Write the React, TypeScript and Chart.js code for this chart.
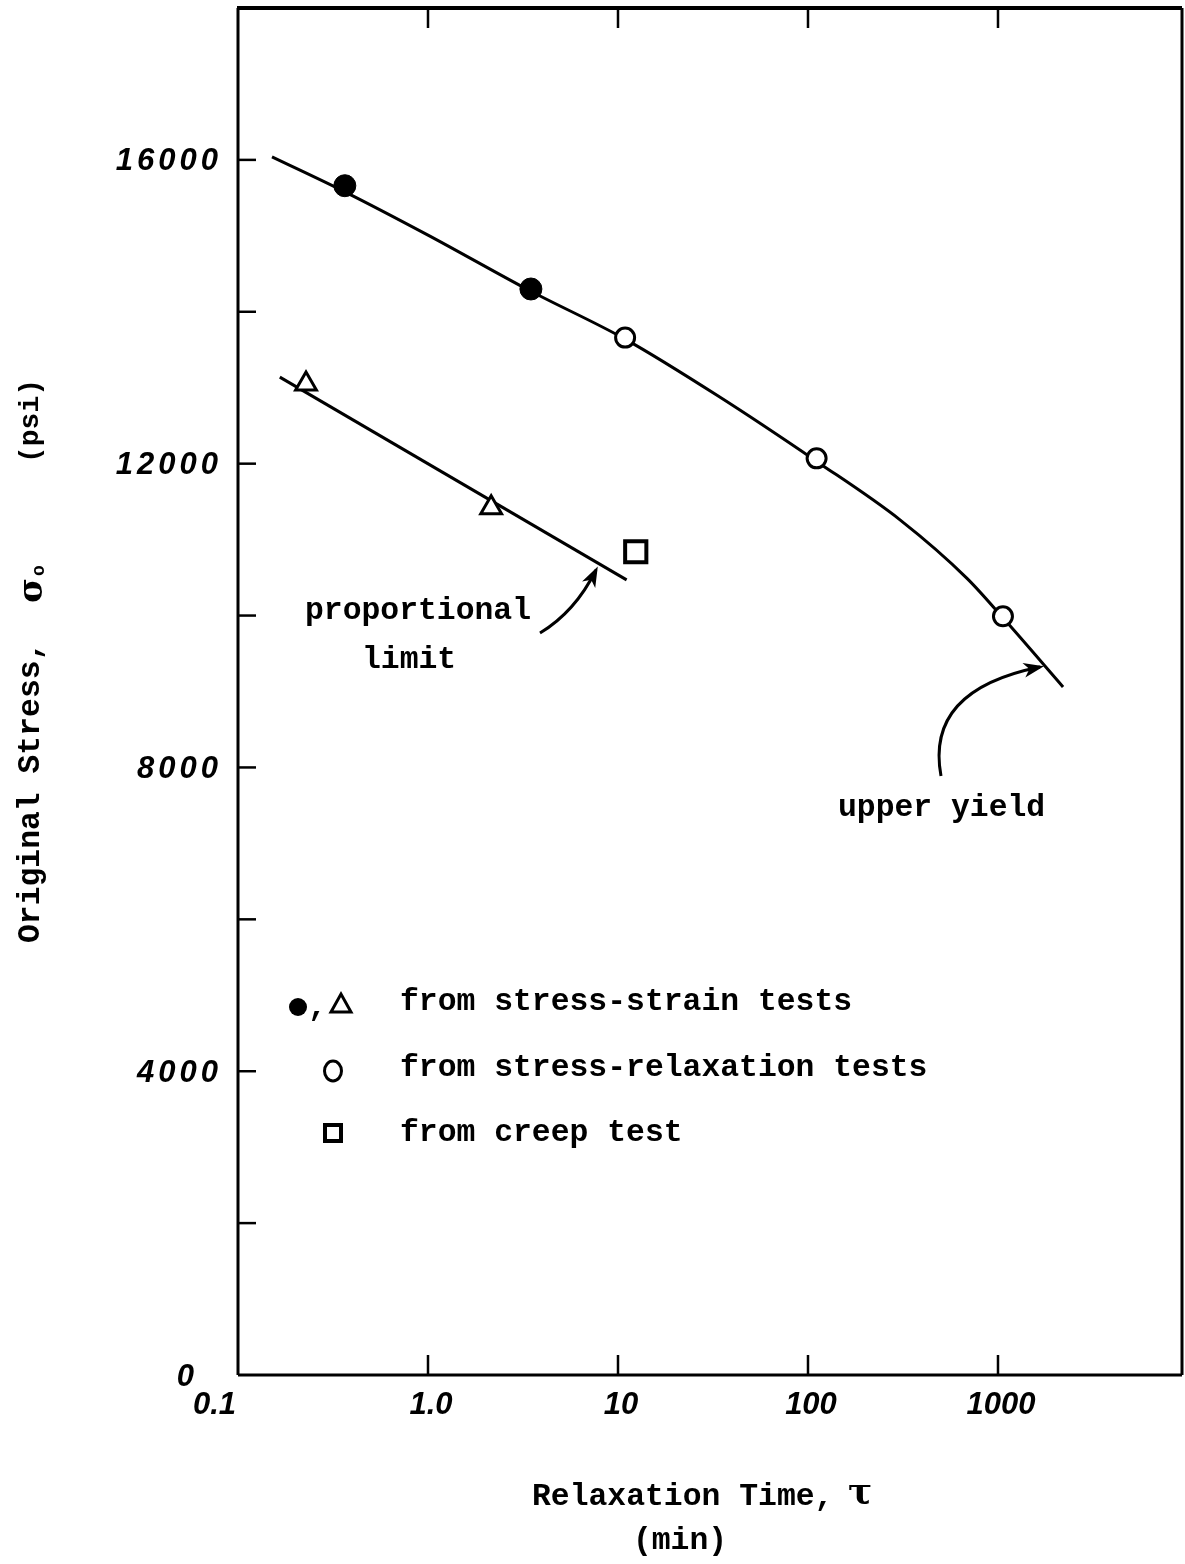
import React, { useEffect, useRef } from "react";
import { Chart, registerables } from "chart.js";

Chart.register(...registerables);

// ---- data ----
const filledX = [0.365, 3.48];
const filledY = [15660, 14300];
const openX = [10.9, 111, 1062];
const openY = [13660, 12070, 9990];
const triX = [0.228, 2.15];
const triY = [13050, 11420];
const sqX = [12.4];
const sqY = [10840];
const upperFitX = [0.151, 0.365, 1.0, 3.48, 10.9, 33.2, 111, 305, 687, 1062, 2200];
const upperFitY = [16040, 15580, 15010, 14270, 13640, 12900, 12030, 11260, 10490, 9970, 9060];
const lowerFitX = [0.166, 11.1];
const lowerFitY = [13140, 10470];

const xTickValues = [0.1, 1, 10, 100, 1000];
const xTickLabels = ["0.1", "1.0", "10", "100", "1000"];
const yMajorValues = [0, 4000, 8000, 12000, 16000];
const yMajorLabels = ["0", "4000", "8000", "12000", "16000"];
const yMinorValues = [2000, 4000, 6000, 8000, 10000, 12000, 14000, 16000];

const legendLabels = [
  "from stress-strain tests",
  "from stress-relaxation tests",
  "from creep test",
];

const xTitle = "Relaxation Time, ";
const xUnit = "(min)";
const yTitle = "Original Stress, ";
const yUnit = "(psi)";

const zip = (xs: number[], ys: number[]) => xs.map((x, i) => ({ x, y: ys[i] }));

const MONO = "bold 31.4px 'Liberation Mono', 'DejaVu Sans Mono', monospace";
const HAND = "italic bold 31px 'Liberation Sans', 'DejaVu Sans', sans-serif";

function arrow(ctx: CanvasRenderingContext2D, x0: number, y0: number, cx: number, cy: number, x1: number, y1: number) {
  ctx.beginPath();
  ctx.moveTo(x0, y0);
  ctx.quadraticCurveTo(cx, cy, x1, y1);
  ctx.stroke();
  const ang = Math.atan2(y1 - cy, x1 - cx);
  const L = 18, W = 0.42;
  ctx.beginPath();
  ctx.moveTo(x1 + 4 * Math.cos(ang), y1 + 4 * Math.sin(ang));
  ctx.lineTo(x1 - L * Math.cos(ang - W), y1 - L * Math.sin(ang - W));
  ctx.lineTo(x1 - L * 0.6 * Math.cos(ang), y1 - L * 0.6 * Math.sin(ang));
  ctx.lineTo(x1 - L * Math.cos(ang + W), y1 - L * Math.sin(ang + W));
  ctx.closePath();
  ctx.fill();
}

const decorPlugin = {
  id: "decor",
  afterDraw(chart: any) {
    const ctx: CanvasRenderingContext2D = chart.ctx;
    const { left, right, top, bottom } = chart.chartArea;
    const xs = chart.scales.x;
    const ys = chart.scales.y;
    ctx.save();
    ctx.strokeStyle = "#000";
    ctx.fillStyle = "#000";
    ctx.lineCap = "butt";
    // frame
    ctx.lineWidth = 3;
    ctx.beginPath();
    ctx.moveTo(left, bottom);
    ctx.lineTo(left, top);
    ctx.stroke();
    ctx.beginPath();
    ctx.moveTo(right, bottom);
    ctx.lineTo(right, top);
    ctx.stroke();
    ctx.beginPath();
    ctx.moveTo(left, bottom);
    ctx.lineTo(right, bottom);
    ctx.stroke();
    ctx.lineWidth = 4;
    ctx.beginPath();
    ctx.moveTo(left - 1, top);
    ctx.lineTo(right, top);
    ctx.stroke();

    // x ticks (inward, top and bottom)
    ctx.lineWidth = 2.5;
    xTickValues.forEach((v, i) => {
      if (i === 0) return;
      const px = xs.getPixelForValue(v);
      ctx.beginPath();
      ctx.moveTo(px, bottom);
      ctx.lineTo(px, bottom - 20);
      ctx.stroke();
      ctx.beginPath();
      ctx.moveTo(px, top);
      ctx.lineTo(px, top + 20);
      ctx.stroke();
    });
    // y ticks (inward, left)
    yMinorValues.forEach((v) => {
      const py = ys.getPixelForValue(v);
      ctx.beginPath();
      ctx.moveTo(left, py);
      ctx.lineTo(left + 18, py);
      ctx.stroke();
    });

    // tick labels
    ctx.font = HAND;
    ctx.textBaseline = "middle";
    xTickValues.forEach((v, i) => {
      const px = xs.getPixelForValue(v);
      if (i === 0) {
        ctx.textAlign = "right";
        ctx.fillText(xTickLabels[i], px - 2, bottom + 30);
      } else {
        ctx.textAlign = "center";
        ctx.fillText(xTickLabels[i], px + 3, bottom + 30);
      }
    });
    (ctx as any).letterSpacing = "4px";
    ctx.textAlign = "right";
    yMajorValues.forEach((v, i) => {
      const py = ys.getPixelForValue(v);
      if (v === 0) {
        ctx.fillText(yMajorLabels[i], left - 40, py + 2);
      } else {
        ctx.fillText(yMajorLabels[i], left - 16, py + 2);
      }
    });
    (ctx as any).letterSpacing = "0px";

    // axis titles
    ctx.font = MONO;
    ctx.textAlign = "left";
    ctx.textBaseline = "middle";
    ctx.fillText(xTitle, 532, 1497);
    ctx.font = "bold 36px 'DejaVu Serif', serif";
    ctx.fillText("τ", 848, 1494);
    ctx.font = MONO;
    ctx.textAlign = "center";
    ctx.fillText(xUnit, 680, 1541);

    ctx.save();
    ctx.translate(31, 943);
    ctx.rotate(-Math.PI / 2);
    ctx.textAlign = "left";
    ctx.font = MONO;
    ctx.fillText(yTitle, 0, 0);
    ctx.font = "bold 34px 'DejaVu Serif', serif";
    ctx.fillText("σ", 340, 2);
    ctx.font = "bold 18px 'Liberation Mono', monospace";
    ctx.fillText("o", 367, 8);
    ctx.font = "bold 28px 'Liberation Mono', monospace";
    ctx.fillText(yUnit, 480, 0);
    ctx.restore();

    // annotations
    ctx.font = MONO;
    ctx.textAlign = "left";
    ctx.fillText("proportional", 305, 611);
    ctx.fillText("limit", 362, 660);
    ctx.fillText("upper yield", 838, 808);

    ctx.lineWidth = 3;
    arrow(ctx, 540, 633, 575, 612, 596, 570);
    arrow(ctx, 941, 776, 925, 690, 1040, 667);

    // legend symbols
    ctx.lineWidth = 3;
    ctx.beginPath();
    ctx.arc(298, 1007, 9, 0, Math.PI * 2);
    ctx.fill();
    ctx.font = MONO;
    ctx.fillText(",", 308, 1007);
    ctx.beginPath();
    ctx.moveTo(331, 1012);
    ctx.lineTo(351, 1012);
    ctx.lineTo(341, 994);
    ctx.closePath();
    ctx.stroke();
    ctx.beginPath();
    ctx.ellipse(333, 1071, 8.5, 10, 0, 0, Math.PI * 2);
    ctx.stroke();
    ctx.lineWidth = 4;
    ctx.strokeRect(325, 1125, 16, 16);

    ctx.font = MONO;
    ctx.textAlign = "left";
    ctx.fillText(legendLabels[0], 400, 1002);
    ctx.fillText(legendLabels[1], 400, 1068);
    ctx.fillText(legendLabels[2], 400, 1133);

    ctx.restore();
  },
};

export default function App() {
  const ref = useRef<HTMLCanvasElement | null>(null);
  useEffect(() => {
    document.body.style.margin = "0";
    document.body.style.background = "#fff";
    if (!ref.current) return;
    const chart = new Chart(ref.current, {
      type: "scatter",
      data: {
        datasets: [
          {
            label: "filled",
            data: zip(filledX, filledY),
            pointStyle: "circle",
            pointRadius: 11,
            backgroundColor: "#000",
            borderColor: "#000",
            borderWidth: 1,
            showLine: false,
            order: 1,
          },
          {
            label: "open",
            data: zip(openX, openY),
            pointStyle: "circle",
            pointRadius: 9.5,
            backgroundColor: "#fff",
            borderColor: "#000",
            borderWidth: 3,
            showLine: false,
            order: 1,
          },
          {
            label: "tri",
            data: zip(triX, triY),
            pointStyle: "triangle",
            pointRadius: 12,
            backgroundColor: "#fff",
            borderColor: "#000",
            borderWidth: 3,
            showLine: false,
            order: 1,
          },
          {
            label: "square",
            data: zip(sqX, sqY),
            pointStyle: "rect",
            pointRadius: 15,
            backgroundColor: "#fff",
            borderColor: "#000",
            borderWidth: 4,
            showLine: false,
            order: 1,
          },
          {
            label: "upper",
            data: zip(upperFitX, upperFitY),
            showLine: true,
            pointRadius: 0,
            borderColor: "#000",
            borderWidth: 3,
            cubicInterpolationMode: "monotone",
            order: 2,
          } as any,
          {
            label: "lower",
            data: zip(lowerFitX, lowerFitY),
            showLine: true,
            pointRadius: 0,
            borderColor: "#000",
            borderWidth: 3,
            order: 2,
          },
        ],
      },
      options: {
        responsive: false,
        animation: false,
        devicePixelRatio: 1,
        layout: { autoPadding: false, padding: { left: 238, right: 3, top: 8, bottom: 189 } },
        plugins: { legend: { display: false }, tooltip: { enabled: false } },
        scales: {
          x: { type: "logarithmic", min: 0.1, max: 9300, display: false },
          y: { type: "linear", min: 0, max: 18000, display: false },
        },
      },
      plugins: [decorPlugin],
    });
    return () => chart.destroy();
  }, []);
  return <canvas ref={ref} width={1185} height={1564} style={{ display: "block" }} />;
}
